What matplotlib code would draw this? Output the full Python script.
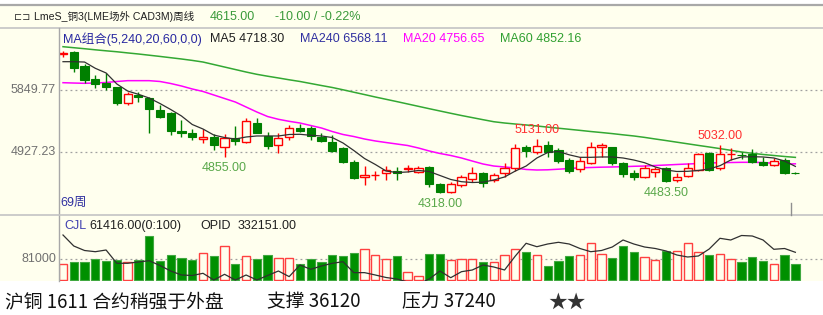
import matplotlib
matplotlib.use('Agg')
import matplotlib.pyplot as plt
from matplotlib.patches import Rectangle
from matplotlib.lines import Line2D
import numpy as np

# ---------------- data ----------------
opens = [6390, 6417, 6205, 6008, 5949, 5890, 5653, 5776, 5727, 5554,
         5514, 5247, 5209, 5120, 5158, 5010, 5135, 5084, 5366, 5169,
         5035, 5149, 5292, 5283, 5158, 5084, 4987, 4788, 4557, 4587,
         4625, 4655, 4684, 4640, 4705, 4455, 4335, 4443, 4527, 4616,
         4517, 4616, 4690, 5001, 4927, 5035, 4961, 4813, 4675, 4773,
         5010, 5001, 4773, 4616, 4566, 4640, 4690, 4517, 4576, 4665,
         4921, 4690, 4897, 4892, 4902, 4788, 4739, 4813, 4625]
highs = [6432, 6427, 6230, 6072, 6097, 5899, 5825, 5825, 5751, 5628,
         5528, 5406, 5268, 5268, 5194, 5194, 5317, 5431, 5431, 5232,
         5209, 5332, 5342, 5317, 5209, 5183, 5010, 4813, 4724, 4655,
         4729, 4714, 4739, 4724, 4724, 4468, 4492, 4591, 4714, 4640,
         4616, 4773, 5050, 5035, 5131, 5095, 4987, 4838, 4853, 5084,
         5069, 5010, 4788, 4665, 4739, 4714, 4714, 4616, 4773, 4921,
         4936, 5032, 4987, 4936, 4972, 4862, 4838, 4838, 4630]
lows = [6343, 6121, 5958, 5875, 5850, 5628, 5628, 5677, 5218, 5440,
        5183, 5158, 5109, 5061, 4961, 4855, 5035, 5061, 5209, 4972,
        4912, 5109, 5232, 5109, 5084, 4936, 4764, 4532, 4443, 4517,
        4517, 4517, 4640, 4625, 4418, 4318, 4320, 4418, 4492, 4418,
        4492, 4566, 4655, 4853, 4902, 4862, 4773, 4616, 4640, 4754,
        4853, 4739, 4566, 4517, 4542, 4566, 4483.5, 4492, 4566, 4655,
        4655, 4665, 4813, 4823, 4773, 4724, 4724, 4606, 4600]
closes = [6398, 6171, 5998, 5939, 5899, 5653, 5786, 5742, 5564, 5454,
          5247, 5218, 5149, 5158, 5035, 5135, 5099, 5391, 5218, 5021,
          5143, 5292, 5247, 5169, 5099, 4951, 4788, 4542, 4591, 4596,
          4665, 4625, 4695, 4690, 4458, 4332, 4458, 4566, 4616, 4477,
          4591, 4699, 4987, 4947, 5025, 4927, 4803, 4655, 4803, 5010,
          5035, 4773, 4606, 4557, 4690, 4675, 4502, 4566, 4690, 4902,
          4665, 4902, 4906, 4883, 4788, 4739, 4803, 4625, 4615]

ma5 = [6269, 6269, 6264, 6171, 6102, 5939, 5835, 5786, 5731, 5650,
       5561, 5465, 5339, 5272, 5183, 5146, 5124, 5154, 5169, 5169,
       5169, 5191, 5194, 5179, 5169, 5146, 5065, 4954, 4835, 4747,
       4650, 4628, 4636, 4658, 4643, 4584, 4525, 4492, 4480, 4485,
       4517, 4562, 4650, 4724, 4843, 4924, 4939, 4890, 4853, 4853,
       4858, 4858, 4843, 4813, 4773, 4710, 4665, 4643, 4646, 4658,
       4680, 4729, 4813, 4858, 4862, 4858, 4843, 4798, 4718.30]
ma20 = [5958, 5953, 5949, 5953, 5961, 5976, 5988, 5988, 5988, 5976,
        5946, 5909, 5865, 5828, 5776, 5724, 5672, 5598, 5524, 5457,
        5416, 5386, 5361, 5324, 5287, 5235, 5191, 5161, 5124, 5095,
        5072, 5050, 5028, 4991, 4947, 4910, 4880, 4843, 4798, 4754,
        4724, 4710, 4695, 4673, 4665, 4668, 4677, 4687, 4698, 4702,
        4707, 4710, 4714, 4720, 4724, 4732, 4739, 4747, 4754, 4761,
        4769, 4773, 4776, 4779, 4779, 4776, 4764, 4754, 4756.65]
ma60 = [6491, 6476, 6461, 6445, 6430, 6416, 6399, 6383, 6365, 6347,
        6328, 6309, 6288, 6264, 6227, 6190, 6153, 6116, 6082, 6054,
        6028, 6001, 5976, 5946, 5916, 5887, 5853, 5817, 5782, 5746,
        5712, 5678, 5643, 5608, 5573, 5539, 5505, 5472, 5441, 5410,
        5380, 5361, 5346, 5332, 5317, 5300, 5284, 5268, 5252, 5235,
        5220, 5204, 5186, 5169, 5148, 5124, 5101, 5077, 5053, 5029,
        5006, 4982, 4957, 4932, 4912, 4895, 4880, 4865, 4852.16]

volume = [61400, 69200, 69200, 82200, 74300, 78300, 71600, 78300, 174000, 74300,
          97800, 87300, 78300, 105700, 93900, 133100, 61400, 93900, 82200, 97800,
          87300, 87300, 61400, 82200, 69200, 97800, 93900, 106900, 120200, 97800,
          82200, 92000, 32400, 16700, 101800, 101800, 78300, 82200, 82200, 69200,
          69200, 97800, 120200, 110800, 97800, 55900, 74300, 93900, 97800, 143700,
          101800, 87300, 134300, 110800, 91200, 78300, 114700, 114700, 143700, 110800,
          97800, 101800, 82200, 69200, 91200, 74300, 61400, 97800, 61416]
opid = [384050, 351050, 337550, 333950, 339050, 299150, 299150, 303050, 306950, 292550,
        276050, 264050, 262550, 269150, 249050, 266150, 249050, 264050, 249050, 262550,
        276050, 259150, 294050, 281150, 291050, 299150, 303950, 271150, 271150, 264050,
        256550, 252050, 243050, 237050, 252050, 276050, 255950, 274000, 279050, 294050,
        288050, 279050, 321050, 359150, 348950, 357050, 362150, 357050, 343550, 333950,
        337550, 348050, 369050, 357050, 348050, 343550, 336050, 324050, 318050, 321050,
        342050, 374150, 369050, 382550, 381050, 369050, 341150, 343550, 332151]

price_ticks = [5849.77, 4927.23]
vol_tick = 81000
marks = [(15, 4855.00, 'low'), (35, 4318.00, 'low'), (44, 5131.00, 'high'),
         (56, 4483.50, 'low'), (61, 5032.00, 'high')]

# ---------------- style ----------------
W, H = 823, 315
CREAM = '#FFFFEE'
GREEN_C = '#008000'
RED_C = '#FF0000'
LAT = 'Liberation Sans'
CJK = 'Noto Sans CJK SC'
MIX = [LAT, CJK, 'DejaVu Sans']
FS = 9

fig = plt.figure(figsize=(W / 100, H / 100), dpi=100)
fig.patch.set_facecolor('white')


def fx(x):
    return x / W


def fy(y):
    return 1 - y / H


def hline(y, x1, x2, color, lw=1.0):
    fig.add_artist(Line2D([fx(x1), fx(x2)], [fy(y), fy(y)], transform=fig.transFigure,
                          color=color, lw=lw, zorder=5))


def vline(x, y1, y2, color, lw=1.0):
    fig.add_artist(Line2D([fx(x), fx(x)], [fy(y1), fy(y2)], transform=fig.transFigure,
                          color=color, lw=lw, zorder=5))


def T(x, y, s, **kw):
    kw.setdefault('va', 'center')
    kw.setdefault('family', MIX)
    kw.setdefault('fontsize', FS)
    return fig.text(fx(x), fy(y), s, **kw)


# background and frame lines
fig.add_artist(Rectangle((0, fy(281)), 1, (281 - 5) / H, transform=fig.transFigure,
                         facecolor=CREAM, edgecolor='none', zorder=-10))
hline(5, 0, W, '#A8A8A8', lw=1.6)
hline(28, 0, W, '#C4C4C4', lw=1.2)
vline(59, 28, 281, '#A8A8A8', lw=1.0)
hline(215, 0, W, '#C4C4C4', lw=1.2)
vline(790.5, 203, 215, '#909090', lw=1.0)

# ---------------- price axes ----------------
n = len(opens)
xs = np.arange(n)
step = 10.77
x0 = -(63 - 60) / step
x1 = x0 + (W - 60) / step
ax = fig.add_axes([fx(60), fy(214), fx(W - 60), (214 - 29) / H])
ax.set_facecolor('none')
ax.set_xlim(x0, x1)
ax.set_ylim(4013.6, 6753.1)
ax.set_axis_off()

for p in price_ticks:
    ax.axhline(p, color='#A0A0A0', lw=0.9, ls=(0, (1.5, 2.5)), zorder=1)

bw = 0.76
for i in range(n):
    o, h, l, c = opens[i], highs[i], lows[i], closes[i]
    up = c >= o
    col = RED_C if up else GREEN_C
    top, bot = max(o, c), min(o, c)
    ax.vlines(i, top, h, color=col, lw=1.0, zorder=3)
    ax.vlines(i, l, bot, color=col, lw=1.0, zorder=3)
    ht = max(top - bot, 8)
    if up:
        ax.bar(i, ht, bottom=bot, width=bw, facecolor=CREAM, edgecolor=col, lw=1.0, zorder=4)
    else:
        ax.bar(i, ht, bottom=bot, width=bw, facecolor=col, edgecolor=col, lw=0.8, zorder=4)

ax.plot(xs, ma60, color='#33A833', lw=1.1, zorder=2)
ax.plot(xs, ma20, color='#FF00FF', lw=1.1, zorder=2)
ax.plot(xs, ma5, color='#303030', lw=0.9, zorder=5)

for idx, val, kind in marks:
    if kind == 'low':
        ax.annotate(f'{val:.2f}', xy=(idx, val), xytext=(0, -11), textcoords='offset pixels',
                    ha='center', va='center', color='#5AA84A', fontsize=FS, family=LAT)
    else:
        ax.annotate(f'{val:.2f}', xy=(idx, val), xytext=(0, 9), textcoords='offset pixels',
                    ha='center', va='center', color='#FF3030', fontsize=FS, family=LAT)

# ---------------- volume axes ----------------
axv = fig.add_axes([fx(60), fy(281), fx(W - 60), (281 - 216) / H])
axv.set_facecolor('none')
axv.set_xlim(x0, x1)
axv.set_ylim(-3999, 250606)
axv.set_axis_off()
axv.axhline(vol_tick, color='#A0A0A0', lw=0.9, ls=(0, (1.5, 2.5)), zorder=1)
for i in range(n):
    if closes[i] >= opens[i]:
        axv.bar(i, volume[i], width=0.77, facecolor=CREAM, edgecolor='#FF4040', lw=1.0, zorder=3)
    else:
        axv.bar(i, volume[i], width=0.77, facecolor='#009000', edgecolor='#40A840', lw=0.8, zorder=3)
axo = axv.twinx()
axo.set_ylim(246051, 441051)
axo.set_axis_off()
axo.plot(xs, opid, color='#303030', lw=0.9, zorder=5)

# ---------------- texts ----------------
T(22, 17, '⊏⊐', fontsize=7, color='#303030', ha='center', family=['DejaVu Sans'])
T(34, 17, 'LmeS_铜3(LME场外 CAD3M)周线', fontsize=7.6, color='#202020')
T(210, 17, '4615.00', color='#3A9A3A')
T(275, 17, '-10.00 / -0.22%', color='#3A9A3A')

T(63, 39, 'MA组合(5,240,20,60,0,0)', color='#2828A0')
T(210, 39, 'MA5 4718.30', color='#202020')
T(300, 39, 'MA240 6568.11', color='#3030A0')
T(403, 39, 'MA20 4756.65', color='#FF00FF')
T(500, 39, 'MA60 4852.16', color='#30A030')

T(56, 90, '5849.77', color='#707070', ha='right')
T(56, 152, '4927.23', color='#707070', ha='right')
T(60, 203, '69周', color='#3030A0')

T(64, 226, 'CJL', color='#4040B0')
T(89, 226, '61416.00(0:100)', color='#202020')
T(200, 226, 'OPID', color='#202020')
T(238, 226, '332151.00', color='#202020')
T(56, 259, '81000', color='#707070', ha='right')

BOT = [CJK, 'DejaVu Sans']
BFS = 13.5
T(5, 302, '沪铜 1611 合约稍强于外盘', fontsize=BFS, color='#111111', family=BOT)
T(267, 302, '支撑 36120', fontsize=BFS, color='#111111', family=BOT)
T(402, 302, '压力 37240', fontsize=BFS, color='#111111', family=BOT)
T(548, 302, '★★', fontsize=BFS, color='#333333', family=BOT)

fig.savefig('out.png', dpi=100, facecolor='white')
